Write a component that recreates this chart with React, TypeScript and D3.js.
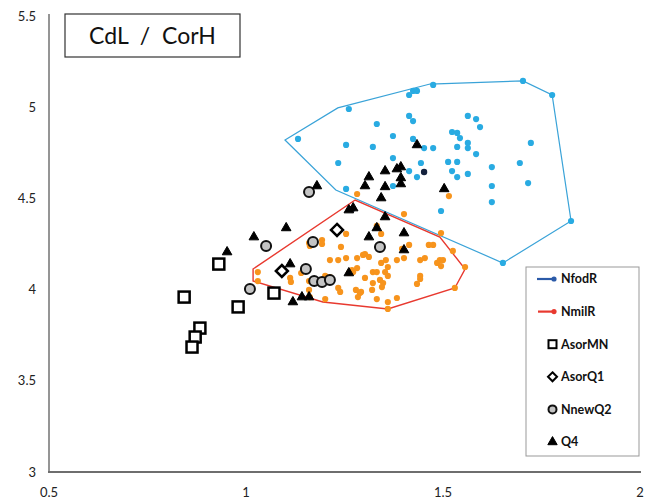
import React from "react";
import * as d3 from "d3";

const WIDTH = 654;
const HEIGHT = 502;

const xTicks = [0.5, 1, 1.5, 2];
const yTicks = [3, 3.5, 4, 4.5, 5, 5.5];

// Convex outline of the NfodR group
const nfodHull: [number, number][] = [
  [1.099, 4.82], [1.233, 4.996], [1.467, 5.127], [1.703, 5.144], [1.777, 5.067],
  [1.825, 4.376], [1.652, 4.146], [1.228, 4.546],
];

// Convex outline of the NmilR group
const nmilHull: [number, number][] = [
  [1.018, 4.113], [1.277, 4.491], [1.492, 4.288], [1.556, 4.113], [1.53, 4.009],
  [1.36, 3.894], [1.195, 3.932], [1.018, 4.047],
];

const nfodPoints: [number, number][] = [
  [1.132, 4.826], [1.261, 4.99], [1.414, 5.067], [1.424, 5.089], [1.434, 5.089],
  [1.475, 5.122], [1.703, 5.144], [1.777, 5.067], [1.332, 4.908], [1.414, 4.952],
  [1.424, 4.924], [1.563, 4.952], [1.584, 4.935], [1.594, 4.891], [1.373, 4.842],
  [1.424, 4.826], [1.523, 4.864], [1.536, 4.859], [1.543, 4.831], [1.723, 4.804],
  [1.254, 4.793], [1.322, 4.782], [1.452, 4.776], [1.475, 4.776], [1.536, 4.782],
  [1.563, 4.804], [1.563, 4.776], [1.584, 4.743], [1.234, 4.694], [1.373, 4.721],
  [1.444, 4.694], [1.513, 4.7], [1.536, 4.7], [1.624, 4.672], [1.695, 4.694],
  [1.414, 4.65], [1.434, 4.617], [1.523, 4.65], [1.536, 4.617], [1.563, 4.634],
  [1.624, 4.568], [1.716, 4.584], [1.373, 4.568], [1.254, 4.552], [1.624, 4.48],
  [1.495, 4.431], [1.825, 4.376], [1.652, 4.146],
];

const nfodDark: [number, number][] = [
  [1.452, 4.645], [1.269, 4.442],
];

const nmilPoints: [number, number][] = [
  [1.282, 4.524], [1.515, 4.513], [1.401, 4.414], [1.495, 4.31], [1.332, 4.349],
  [1.343, 4.305], [1.254, 4.305], [1.193, 4.272], [1.193, 4.25], [1.162, 4.239],
  [1.241, 4.234], [1.414, 4.245], [1.396, 4.223], [1.464, 4.245], [1.475, 4.245],
  [1.525, 4.212], [1.556, 4.124], [1.213, 4.162], [1.234, 4.162], [1.254, 4.173],
  [1.282, 4.173], [1.302, 4.195], [1.312, 4.179], [1.343, 4.146], [1.355, 4.162],
  [1.383, 4.162], [1.401, 4.173], [1.442, 4.162], [1.454, 4.173], [1.485, 4.146],
  [1.492, 4.162], [1.5, 4.162], [1.495, 4.129], [1.282, 4.118], [1.272, 4.096],
  [1.261, 4.091], [1.322, 4.096], [1.332, 4.096], [1.36, 4.124], [1.353, 4.096],
  [1.36, 4.075], [1.302, 4.064], [1.34, 4.053], [1.348, 4.036], [1.322, 4.036],
  [1.345, 4.014], [1.442, 4.075], [1.442, 4.058], [1.434, 4.031], [1.234, 4.009],
  [1.239, 3.987], [1.213, 4.069], [1.201, 4.075], [1.193, 4.053], [1.17, 4.047],
  [1.112, 4.064], [1.16, 3.998], [1.279, 3.998], [1.289, 3.981], [1.284, 3.959],
  [1.32, 3.998], [1.332, 3.948], [1.36, 3.932], [1.383, 3.954], [1.201, 3.948],
  [1.53, 4.009], [1.36, 3.894], [1.16, 4.255], [1.03, 4.096], [1.03, 4.047],
  [1.114, 4.042], [1.14, 4.091], [1.269, 4.107], [1.162, 3.959], [1.292, 3.987],
  [1.297, 4.19], [1.16, 4.047],
];

const asorMN: [number, number][] = [
  [0.931, 4.14], [0.843, 3.959], [0.98, 3.905], [0.883, 3.789], [0.871, 3.74],
  [0.863, 3.685], [1.071, 3.981],
];

const asorQ1: [number, number][] = [
  [1.231, 4.327], [1.091, 4.102],
];

const nnewQ2: [number, number][] = [
  [1.16, 4.535], [1.051, 4.239], [1.17, 4.261], [1.152, 4.113], [1.34, 4.234],
  [1.173, 4.047], [1.193, 4.042], [1.213, 4.053], [1.01, 4.003],
];

const q4: [number, number][] = [
  [1.434, 4.793], [1.353, 4.65], [1.383, 4.661], [1.393, 4.672], [1.312, 4.617],
  [1.393, 4.612], [1.393, 4.579], [1.302, 4.568], [1.353, 4.563], [1.343, 4.502],
  [1.503, 4.552], [1.18, 4.568], [1.261, 4.436], [1.272, 4.447], [1.353, 4.398],
  [1.102, 4.338], [1.02, 4.288], [0.952, 4.206], [1.112, 4.14], [1.261, 4.091],
  [1.142, 3.959], [1.16, 3.959], [1.119, 3.932], [1.312, 4.288], [1.401, 4.31],
  [1.332, 4.338], [1.401, 4.217],
];

const legendItems = ["NfodR", "NmilR", "AsorMN", "AsorQ1", "NnewQ2", "Q4"];

const CYAN = "#29abe2";
const ORANGE = "#f7941d";
const RED = "#e8392f";
const HULL_BLUE = "#3aa3d8";
const NAVY = "#2b5aa8";
const FONT = "Lato, 'Open Sans', sans-serif";

const x = d3.scaleLinear().domain([0.5, 2]).range([49, 640]);
const y = d3.scaleLinear().domain([3, 5.5]).range([472, 16]);

const hullLine = d3
  .line<[number, number]>()
  .x((d) => x(d[0]))
  .y((d) => y(d[1]))
  .curve(d3.curveLinearClosed);

const triangle = d3.symbol().type(d3.symbolTriangle).size(40)()!;
const legendTriangle = d3.symbol().type(d3.symbolTriangle).size(38)()!;

function diamondPath(cx: number, cy: number, r: number) {
  return `M${cx},${cy - r}L${cx + r},${cy}L${cx},${cy + r}L${cx - r},${cy}Z`;
}

export default function App() {
  const legendX = 526;
  const legendY = 267;
  const rowY = (i: number) => 279 + i * 32.6;

  return (
    <svg
      width={WIDTH}
      height={HEIGHT}
      style={{ position: "absolute", left: 0, top: 0, background: "#fff" }}
      fontFamily={FONT}
    >
      {/* axes */}
      <line x1={49} x2={49} y1={14} y2={472} stroke="#8a8a8a" strokeWidth={1.8} />
      <line x1={48} x2={641} y1={472} y2={472} stroke="#6e6e6e" strokeWidth={1.8} />

      {yTicks.map((t) => (
        <text key={`y${t}`} x={36} y={y(t)} dy="0.35em" textAnchor="end" fontSize={13} fill="#222">
          {t}
        </text>
      ))}
      {xTicks.map((t) => (
        <text key={`x${t}`} x={x(t)} y={492} dy="0.35em" textAnchor="middle" fontSize={13} fill="#222">
          {t}
        </text>
      ))}

      {/* title */}
      <rect x={65} y={14} width={175} height={43} fill="#fff" stroke="#333" strokeWidth={1.2} />
      <text
        x={152.5}
        y={36}
        dy="0.35em"
        textAnchor="middle"
        fontSize={23}
        fill="#111"
        style={{ whiteSpace: "pre" }}
      >
        {"CdL  /  CorH"}
      </text>

      {/* group outlines */}
      <path d={hullLine(nfodHull)!} fill="none" stroke={HULL_BLUE} strokeWidth={1.2} />
      <path d={hullLine(nmilHull)!} fill="none" stroke={RED} strokeWidth={1.4} />

      {nfodPoints.map((d, i) => (
        <circle key={`c${i}`} cx={x(d[0])} cy={y(d[1])} r={3.1} fill={CYAN} />
      ))}
      {nmilPoints.map((d, i) => (
        <circle key={`o${i}`} cx={x(d[0])} cy={y(d[1])} r={3.1} fill={ORANGE} />
      ))}
      {nfodDark.map((d, i) => (
        <circle key={`n${i}`} cx={x(d[0])} cy={y(d[1])} r={3.2} fill="#14213d" />
      ))}

      {asorMN.map((d, i) => (
        <rect
          key={`s${i}`}
          x={x(d[0]) - 5.5}
          y={y(d[1]) - 5.5}
          width={11}
          height={11}
          fill="#fff"
          stroke="#000"
          strokeWidth={2.5}
        />
      ))}
      {asorQ1.map((d, i) => (
        <path key={`d${i}`} d={diamondPath(x(d[0]), y(d[1]), 6)} fill="#fff" stroke="#000" strokeWidth={2.5} />
      ))}
      {nnewQ2.map((d, i) => (
        <circle key={`g${i}`} cx={x(d[0])} cy={y(d[1])} r={5} fill="#c4c4c4" stroke="#111" strokeWidth={2} />
      ))}
      {q4.map((d, i) => (
        <path
          key={`t${i}`}
          d={triangle}
          transform={`translate(${x(d[0])},${y(d[1])})`}
          fill="#000"
          stroke="#000"
          strokeWidth={1}
          strokeLinejoin="round"
        />
      ))}

      {/* legend */}
      <rect x={legendX} y={legendY} width={113} height={189} fill="#fff" stroke="#999" strokeWidth={1} />
      <line x1={537} x2={553} y1={rowY(0)} y2={rowY(0)} stroke={NAVY} strokeWidth={2.2} />
      <circle cx={554} cy={rowY(0)} r={2.6} fill={NAVY} />
      <line x1={538} x2={553} y1={rowY(1)} y2={rowY(1)} stroke={RED} strokeWidth={2.2} />
      <circle cx={554} cy={rowY(1)} r={2.6} fill={RED} />
      <rect x={548.5} y={rowY(2) - 4} width={8} height={8} fill="#fff" stroke="#000" strokeWidth={2} />
      <path d={diamondPath(552.5, rowY(3), 4.5)} fill="#fff" stroke="#000" strokeWidth={2} />
      <circle cx={552.5} cy={rowY(4)} r={4} fill="#c4c4c4" stroke="#111" strokeWidth={2} />
      <path
        d={legendTriangle}
        transform={`translate(552.5,${rowY(5)})`}
        fill="#000"
        stroke="#000"
        strokeLinejoin="round"
      />
      {legendItems.map((name, i) => (
        <text key={name} x={561} y={rowY(i)} dy="0.35em" fontSize={12.5} fontWeight="bold" fill="#111">
          {name}
        </text>
      ))}
    </svg>
  );
}
